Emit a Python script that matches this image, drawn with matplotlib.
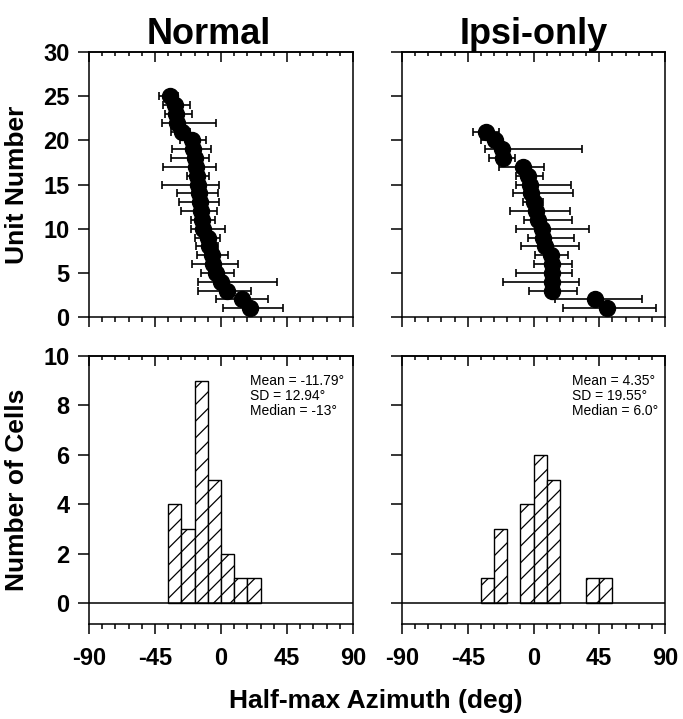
import matplotlib
matplotlib.use('Agg')
import matplotlib.pyplot as plt
from matplotlib.ticker import MultipleLocator

plt.rcParams['font.family'] = ['Liberation Sans', 'DejaVu Sans']
plt.rcParams['hatch.linewidth'] = 0.9
plt.rcParams['axes.unicode_minus'] = False

# ---------------- data ----------------
normal_units = list(range(25, 0, -1))
normal_az = [-34.8, -31.4, -30.8, -30.2, -26.8, -20.0, -18.9, -17.6, -17.3, -16.6,
             -15.5, -14.8, -14.3, -13.9, -13.2, -12.1, -8.8, -8.0, -6.4, -5.3,
             -3.4, 0.3, 3.8, 14.0, 19.8]
normal_lo = [-42.3, -39.3, -38.2, -40.0, -34.0, -28.0, -33.6, -34.3, -39.3, -23.4,
             -40.5, -29.8, -28.7, -27.5, -20.7, -20.7, -17.7, -17.3, -16.2, -19.6,
             -13.6, -15.5, -15.5, -3.4, 1.6]
normal_hi = [-29.3, -21.2, -20.0, -3.6, -21.0, -10.3, -6.8, -8.0, -3.6, -8.0,
             -1.2, -1.9, -1.4, -3.0, -4.1, 2.7, -0.7, -1.9, 4.9, 11.8,
             9.1, 37.9, 20.4, 32.2, 42.0]

ipsi_units = list(range(21, 0, -1))
ipsi_az = [-32.7, -26.5, -21.8, -21.1, -7.4, -3.5, -2.4, -1.7, 0.5, 1.7,
           3.3, 5.6, 6.7, 7.9, 12.0, 12.4, 12.4, 12.9, 12.9, 42.1, 50.5]
ipsi_lo = [-41.2, -36.1, -33.2, -30.5, -23.4, -12.0, -12.0, -14.2, -7.0, -16.1,
           -6.3, -12.0, -3.6, -8.5, 1.0, 0.6, -12.0, -20.7, -3.1, 14.7, 20.4]
ipsi_hi = [-23.4, -21.8, 33.0, -12.7, 7.4, 6.7, 25.7, 26.8, 6.3, 25.0,
           26.2, 38.2, 27.9, 31.2, 23.8, 26.2, 26.2, 31.2, 30.0, 74.5, 83.6]

bin_left = [-36, -27, -18, -9, 0, 9, 18, 27, 36, 45]
bin_width = 9
normal_counts = [4, 3, 9, 5, 2, 1, 1, 0, 0, 0]
ipsi_counts = [1, 3, 0, 4, 6, 5, 0, 0, 1, 1]

titles = ["Normal", "Ipsi-only"]
normal_stats = ["Mean = -11.79\u00b0", "SD = 12.94\u00b0", "Median = -13\u00b0"]
ipsi_stats = ["Mean = 4.35\u00b0", "SD = 19.55\u00b0", "Median = 6.0\u00b0"]

# ---------------- figure ----------------
W, H = 683, 719
fig = plt.figure(figsize=(W / 100, H / 100), dpi=100)

def fx(px):
    return px / W

def fy(py):
    return 1 - py / H

cols = [(89, 353), (402, 665)]
top_rows = (52, 317)
bot_rows = (356, 624)

LW = 1.1
TICKFS = 17


def style_x(ax, show_labels):
    ax.set_xlim(-90, 90)
    ax.xaxis.set_major_locator(MultipleLocator(45))
    ax.xaxis.set_minor_locator(MultipleLocator(9))
    ax.tick_params(axis='x', which='major', direction='out', length=7.5, width=LW,
                   top=False, bottom=True, labelbottom=show_labels,
                   labelsize=TICKFS, pad=9)
    ax.tick_params(axis='x', which='minor', direction='out', length=3.8, width=LW,
                   top=False, bottom=True)
    for lab in ax.get_xticklabels():
        lab.set_fontweight('bold')
    sec = ax.secondary_xaxis('top')
    sec.xaxis.set_major_locator(MultipleLocator(45))
    sec.xaxis.set_minor_locator(MultipleLocator(9))
    sec.tick_params(axis='x', which='major', direction='in', length=7, width=LW,
                    labeltop=False)
    sec.tick_params(axis='x', which='minor', direction='in', length=3, width=LW)
    sec.spines['top'].set_linewidth(LW)
    for s in ax.spines.values():
        s.set_linewidth(LW)


def style_y(ax, show_labels):
    ax.tick_params(axis='y', which='major', direction='out', length=8, width=LW,
                   left=True, right=False, labelleft=show_labels,
                   labelsize=TICKFS, pad=6)
    for lab in ax.get_yticklabels():
        lab.set_fontweight('bold')


unit_sets = [(normal_units, normal_az, normal_lo, normal_hi),
             (ipsi_units, ipsi_az, ipsi_lo, ipsi_hi)]
count_sets = [normal_counts, ipsi_counts]
stat_sets = [normal_stats, ipsi_stats]

for i, (x0, x1) in enumerate(cols):
    # top panel
    ax = fig.add_axes([fx(x0), fy(top_rows[1]), fx(x1) - fx(x0),
                       fy(top_rows[0]) - fy(top_rows[1])])
    u, az, lo, hi = unit_sets[i]
    xerr = [[a - l for a, l in zip(az, lo)], [h - a for a, h in zip(az, hi)]]
    ax.errorbar(az, u, xerr=xerr, fmt='o', ms=11.5, mfc='black', mec='black',
                ecolor='black', elinewidth=1.2, capsize=3.2, capthick=1.2, zorder=3)
    ax.set_ylim(0, 30)
    ax.set_yticks([0, 5, 10, 15, 20, 25, 30])
    style_x(ax, False)
    style_y(ax, i == 0)

    # bottom panel
    axb = fig.add_axes([fx(x0), fy(bot_rows[1]), fx(x1) - fx(x0),
                        fy(bot_rows[0]) - fy(bot_rows[1])])
    lefts = [b for b, c in zip(bin_left, count_sets[i]) if c > 0]
    heights = [c for c in count_sets[i] if c > 0]
    axb.bar(lefts, heights, width=bin_width, align='edge', bottom=0,
            facecolor='white', edgecolor='black', hatch='//', linewidth=1.0,
            zorder=2)
    axb.axhline(0, color='black', lw=LW, zorder=3)
    axb.set_ylim(-0.85, 10)
    axb.set_yticks([0, 2, 4, 6, 8, 10])
    style_x(axb, True)
    style_y(axb, i == 0)
    sx = 0.61 if i == 0 else 0.646
    for k, line in enumerate(stat_sets[i]):
        axb.text(sx, 0.905 - k * 0.055, line, transform=axb.transAxes,
                 fontsize=10, ha='left', va='center')

    # column title
    tx = 209 if i == 0 else 534
    fig.text(fx(tx), fy(44), titles[i], fontsize=26, fontweight='bold',
             ha='center', va='baseline')

fig.text(fx(17), fy((top_rows[0] + top_rows[1]) / 2), "Unit Number", rotation=90,
         fontsize=19, fontweight='bold', ha='center', va='center')
fig.text(fx(17), fy((bot_rows[0] + bot_rows[1]) / 2), "Number of Cells", rotation=90,
         fontsize=19, fontweight='bold', ha='center', va='center')
fig.text(fx(376), fy(708), "Half-max Azimuth (deg)", fontsize=19,
         fontweight='bold', ha='center', va='baseline')

fig.savefig('out.png', dpi=100)
